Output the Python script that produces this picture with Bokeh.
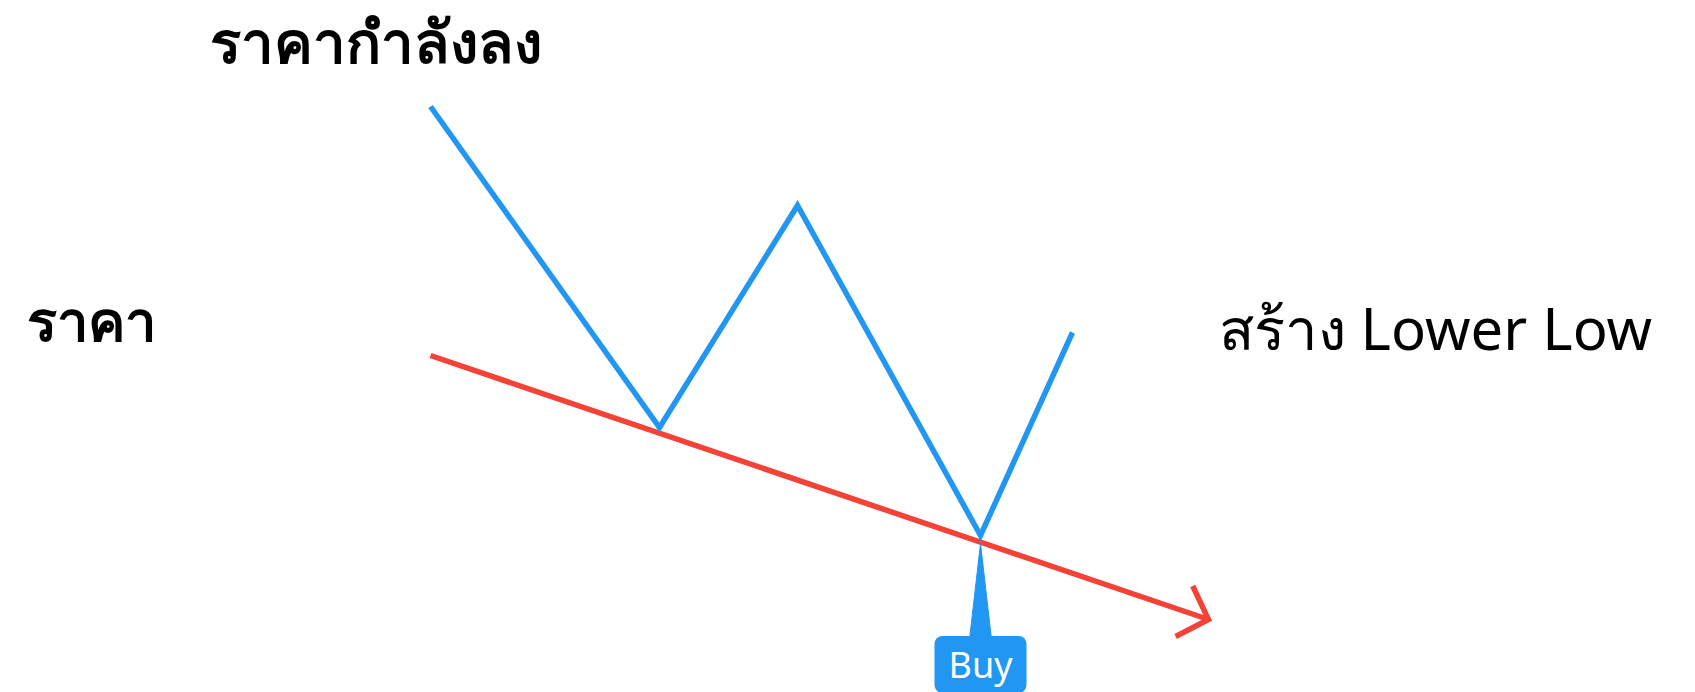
import math
from bokeh.plotting import figure
from bokeh.models import Range1d, Label
from bokeh.embed import file_html
from bokeh.resources import INLINE

# Schematic price path (time index, price position)
price_t = [430, 659, 797, 980, 1072]
price_y = [106, 427, 205, 535, 332]

# Descending support trend line
trend_t = [430, 1208]
trend_y = [355, 619]

# Buy signal location
buy_t = 980
buy_y = 543

W, H = 1695, 692
p = figure(width=W, height=H, output_backend="svg", toolbar_location=None,
           x_range=Range1d(0, W), y_range=Range1d(H, 0), min_border=0)
p.axis.visible = False
p.grid.visible = False
p.outline_line_color = None
p.background_fill_color = "white"
p.border_fill_color = "white"

BLUE = "#2196F3"
RED = "#F44336"

# trend line + open arrow head
p.line(trend_t, trend_y, line_color=RED, line_width=5.5)
ang = math.atan2(trend_y[1] - trend_y[0], trend_t[1] - trend_t[0])
hl, ha = 37, math.radians(46)
tx, ty = trend_t[1], trend_y[1]
wx = [tx - hl * math.cos(ang - ha), tx, tx - hl * math.cos(ang + ha)]
wy = [ty - hl * math.sin(ang - ha), ty, ty - hl * math.sin(ang + ha)]
p.line(wx, wy, line_color=RED, line_width=5.5, line_join="miter")

# price path
p.line(price_t, price_y, line_color=BLUE, line_width=5.5, line_join="miter")

# buy marker: pointer triangle + label box
p.patch([buy_t, buy_t - 11, buy_t + 11], [buy_y, buy_y + 96, buy_y + 96],
        fill_color=BLUE, line_color=BLUE)
p.add_layout(Label(x=buy_t, y=664, text="Buy", text_color="white",
                   text_font="Noto Sans", text_font_size="36px",
                   text_align="center", text_baseline="middle",
                   background_fill_color=BLUE, border_radius=8,
                   padding=(14, 4)))

p.add_layout(Label(x=209, y=40, text="ราคากำลังลง", text_font="Noto Sans",
                   text_font_size="58px", text_font_style="bold",
                   text_baseline="alphabetic", text_color="black"))
p.add_layout(Label(x=26, y=318, text="ราคา", text_font="Noto Sans",
                   text_font_size="56px", text_font_style="bold",
                   text_baseline="alphabetic", text_color="black"))
p.add_layout(Label(x=1218, y=327, text="สร้าง Lower Low", text_font="Noto Sans",
                   text_font_size="58px", text_font_style="normal",
                   text_baseline="alphabetic", text_color="black"))

open("out.html", "w").write(file_html(p, INLINE))
